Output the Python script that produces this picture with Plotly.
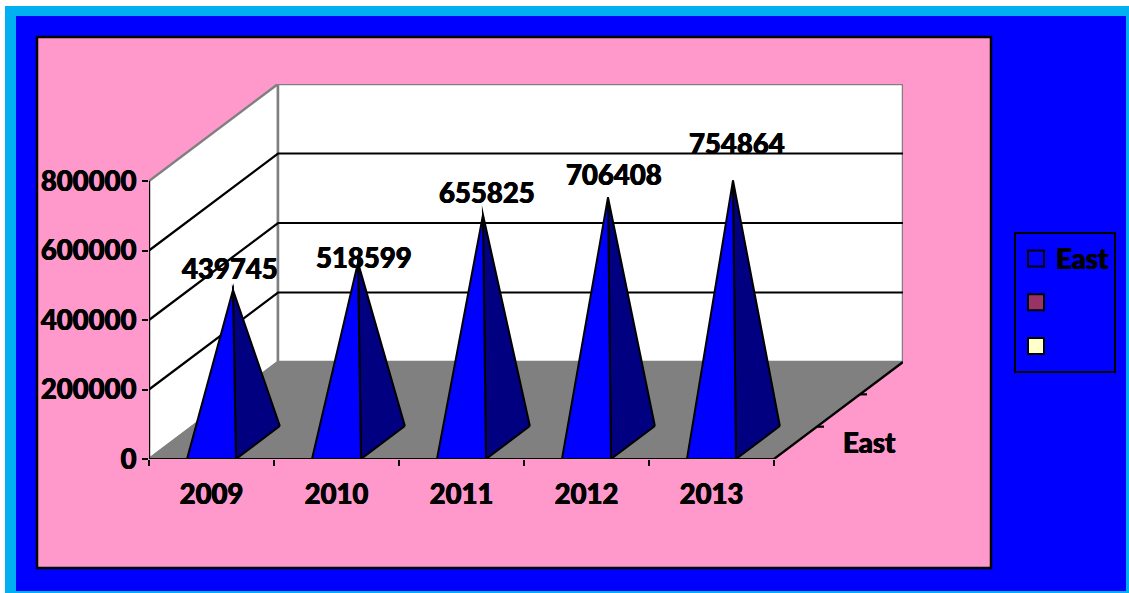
import plotly.graph_objects as go

# ---- data ----
YEARS = ["2009", "2010", "2011", "2012", "2013"]
EAST = [439745, 518599, 655825, 706408, 754864]
VALUE_TICKS = [0, 200000, 400000, 600000, 800000]
DEPTH_LABEL = "East"
LEGEND_NAMES = ["East", " ", "  "]

# ---- style / layout ----
W, H = 1129, 593
PL, PT, PR, PB = 149, 84, 903, 459     # plot box in pixels
CAT_PX = 125.0
VAL_PX = 278.0 / 800000
DEPTH_PX = (129.0, 97.0)
DX = DEPTH_PX[0] / CAT_PX               # depth vector in axis units
DY = DEPTH_PX[1] / VAL_PX
HALF_W = 0.196
DEPTH_SLOT = 0.34
BLACK, GRAY, BLUE, NAVY = "#000000", "#808080", "#0000FF", "#000080"
PINK, CYAN, PURPLE, CREAM = "#FF99CC", "#00B0F0", "#993366", "#FFFFCC"
TEXT_FONT = dict(family="Lato", size=27.5, color=BLACK, weight=900,
                 shadow="0.4px 0 0 #000, -0.4px 0 0 #000")
LABEL_SHIFT = [(-3, 22), (6, 5), (4, 22), (6, 23), (4, 37)]


def proj(cat, val, z):
    return cat + z * DX, val + z * DY


fig = go.Figure()


def poly(points, fill, line_color=None, width=2):
    xs = [p[0] for p in points] + [points[0][0]]
    ys = [p[1] for p in points] + [points[0][1]]
    fig.add_trace(go.Scatter(
        x=xs, y=ys, mode="lines", fill="toself", fillcolor=fill,
        line=dict(color=line_color or fill, width=width), hoverinfo="skip",
        showlegend=False, cliponaxis=False))


def line(points, color=BLACK, width=2.2):
    fig.add_trace(go.Scatter(
        x=[p[0] for p in points], y=[p[1] for p in points], mode="lines",
        line=dict(color=color, width=width), hoverinfo="skip",
        showlegend=False, cliponaxis=False))


ncat = len(YEARS)
vmax = VALUE_TICKS[-1]

# walls and floor
poly([proj(0, 0, 0), proj(0, vmax, 0), proj(0, vmax, 1), proj(0, 0, 1)], "#FFFFFF", GRAY, 2.5)
poly([proj(0, 0, 1), proj(0, vmax, 1), proj(ncat, vmax, 1), proj(ncat, 0, 1)], "#FFFFFF", GRAY, 2.5)
poly([proj(0, 0, 0), proj(ncat, 0, 0), proj(ncat, 0, 1), proj(0, 0, 1)], GRAY, GRAY)

# gridlines
for v in VALUE_TICKS[1:-1]:
    line([proj(0, v, 0), proj(0, v, 1), proj(ncat, v, 1)])

# axes
line([proj(0, 0, 0), proj(0, vmax, 0)])
line([proj(0, 0, 0), proj(ncat, 0, 0), proj(ncat, 0, 1)])
for k in (1, 2, 3):
    z = k / 3
    cx, cy = proj(ncat, 0, z)
    line([(cx, cy), (cx + 7 / CAT_PX, cy)])

# pyramids
for i, v in enumerate(EAST):
    c = i + 0.5
    apex = proj(c, v, 1 / 6)
    fl = proj(c - HALF_W, 0, 0)
    fr = proj(c + HALF_W, 0, 0)
    br = proj(c + HALF_W, 0, DEPTH_SLOT)
    poly([br, apex, fr], NAVY, BLACK)
    poly([fl, apex, fr], BLUE, BLACK)
    fig.add_annotation(
        x=apex[0], y=apex[1], text=str(v), showarrow=False,
        xref="x", yref="y", xanchor="center", yanchor="middle",
        xshift=LABEL_SHIFT[i][0], yshift=LABEL_SHIFT[i][1],
        font=TEXT_FONT)

# depth axis label
dl = proj(ncat, 0, 1 / 6)
fig.add_annotation(
    x=dl[0], y=dl[1], text=DEPTH_LABEL, showarrow=False, xanchor="center",
    yanchor="middle", xshift=74, yshift=0,
    font=TEXT_FONT)

# legend entries
for nm, col in zip(LEGEND_NAMES, [BLUE, PURPLE, CREAM]):
    fig.add_trace(go.Scatter(
        x=[None], y=[None], mode="markers", name=nm, legendgroup=nm,
        marker=dict(symbol="square", size=16, color=col,
                    line=dict(color=BLACK, width=2))))


def px(x):
    return (x - PL) / (PR - PL)


def py(y):
    return (PB - y) / (PB - PT)


def rect(x0, y0, x1, y1, fill, lc=None, lw=0):
    fig.add_shape(type="rect", xref="paper", yref="paper", layer="below",
                  x0=px(x0), x1=px(x1), y0=py(y1), y1=py(y0), fillcolor=fill,
                  line=dict(color=lc or fill, width=lw))


rect(5, 6, W, H, CYAN)
rect(16, 16, 1126, 591, BLUE)
rect(37, 37, 991, 568, PINK, BLACK, 2.5)

fig.update_layout(
    width=W, height=H, autosize=False,
    margin=dict(l=PL, t=PT, r=W - PR, b=H - PB, pad=0),
    paper_bgcolor="#FFFFFF", plot_bgcolor="rgba(0,0,0,0)",
    font=TEXT_FONT,
    showlegend=True,
    legend=dict(
        x=px(1014), y=py(232), xanchor="left", yanchor="top",
        bgcolor=BLUE, bordercolor=BLACK, borderwidth=2,
        tracegroupgap=5, itemclick=False, itemdoubleclick=False,
        font=TEXT_FONT),
    xaxis=dict(
        range=[0, (PR - PL) / CAT_PX], showgrid=False, zeroline=False,
        showline=False, tickmode="array",
        tickvals=[i + 0.5 for i in range(ncat)], ticktext=YEARS,
        ticks="", ticklabelstandoff=16,
        minor=dict(ticks="outside", tickmode="array",
                   tickvals=list(range(ncat + 1)),
                   ticklen=6, tickwidth=2, tickcolor=BLACK, showgrid=False),
        tickfont=TEXT_FONT),
    yaxis=dict(
        range=[0, (PB - PT) / VAL_PX], showgrid=False, zeroline=False,
        showline=False, tickmode="array", tickvals=VALUE_TICKS,
        ticktext=[str(v) for v in VALUE_TICKS],
        ticks="outside", ticklen=6, tickwidth=2, tickcolor=BLACK,
        ticklabelstandoff=0,
        tickfont=TEXT_FONT),
)

fig.write_html(
    "out.html", config={"displayModeBar": False},
    post_script=(
        "document.body.style.margin='0';document.body.style.overflow='hidden';"
        "document.querySelectorAll('.scatterlayer .js-line').forEach(function(p){"
        "p.style.strokeLinejoin='miter';p.style.strokeMiterlimit='10';});"
    ))
